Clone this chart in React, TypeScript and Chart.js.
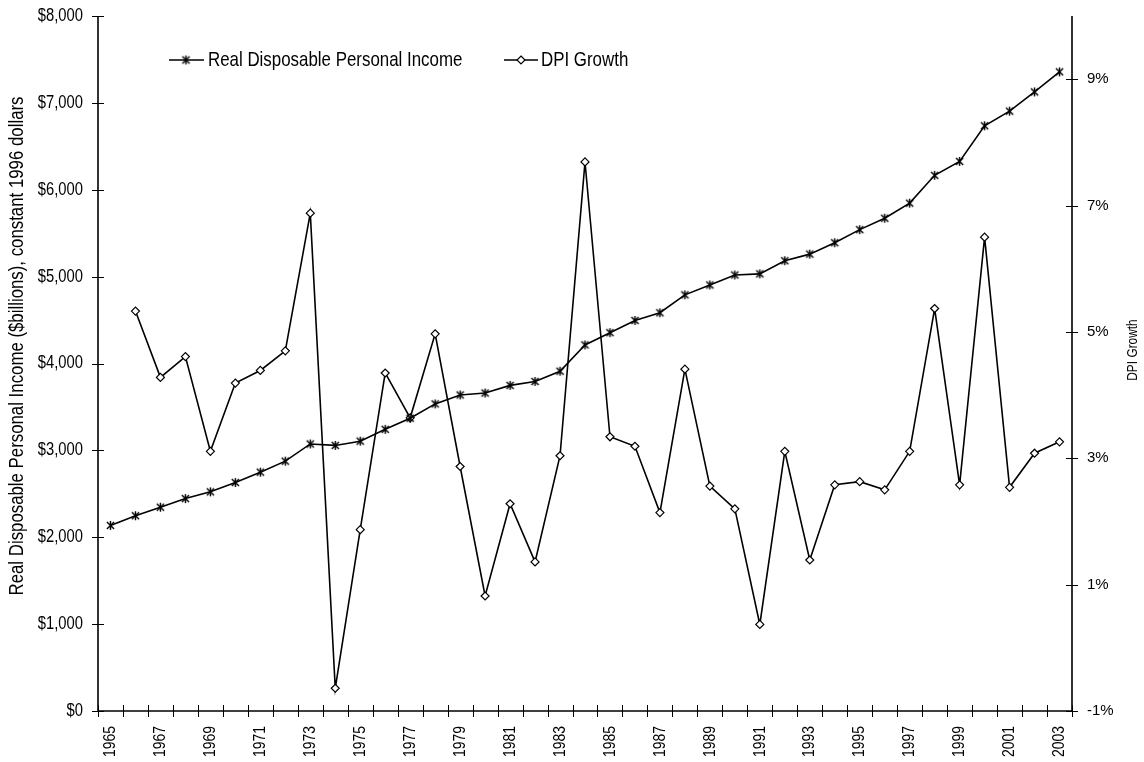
import React, { useEffect, useRef } from 'react';
import { Chart, registerables } from 'chart.js';

Chart.register(...registerables);

const years = [
  '1965', '1966', '1967', '1968', '1969', '1970', '1971', '1972', '1973', '1974',
  '1975', '1976', '1977', '1978', '1979', '1980', '1981', '1982', '1983', '1984',
  '1985', '1986', '1987', '1988', '1989', '1990', '1991', '1992', '1993', '1994',
  '1995', '1996', '1997', '1998', '1999', '2000', '2001', '2002', '2003',
];

const rdpi = [
  2136, 2248, 2346, 2445, 2523, 2630, 2749, 2876, 3074, 3057,
  3106, 3242, 3370, 3535, 3638, 3660, 3748, 3793, 3911, 4214,
  4355, 4495, 4584, 4790, 4904, 5019, 5032, 5183, 5259, 5390,
  5541, 5672, 5846, 6166, 6326, 6736, 6905, 7126, 7357,
];

const growth = [
  null, 5.33, 4.28, 4.61, 3.11, 4.19, 4.39, 4.70, 6.88, -0.64,
  1.87, 4.35, 3.64, 4.97, 2.87, 0.82, 2.28, 1.36, 3.04, 7.69,
  3.34, 3.19, 2.14, 4.41, 2.56, 2.20, 0.37, 3.11, 1.39, 2.58,
  2.63, 2.50, 3.11, 5.37, 2.58, 6.50, 2.54, 3.08, 3.26,
];

const leftTicks = [0, 1000, 2000, 3000, 4000, 5000, 6000, 7000, 8000];
const rightTicks = [-1, 1, 3, 5, 7, 9];
const seriesNames = ['Real Disposable Personal Income', 'DPI Growth'];
const leftTitle = 'Real Disposable Personal Income ($billions), constant 1996 dollars';
const rightTitle = 'DPI Growth';

const FAMILY = "'Liberation Sans', Arial, sans-serif";
const NARROW_SCALE = 0.82;

const fmtLeft = (v: number) => '$' + v.toLocaleString('en-US');
const fmtRight = (v: number) => v + '%';

function makeStar(size: number, lw: number) {
  const c = document.createElement('canvas');
  c.width = size;
  c.height = size;
  const g = c.getContext('2d')!;
  g.strokeStyle = '#000';
  g.lineWidth = lw;
  const m = size / 2;
  const r = size / 2 - 1;
  const d = r * 0.8;
  g.beginPath();
  g.moveTo(m - d, m - d);
  g.lineTo(m + d, m + d);
  g.moveTo(m + d, m - d);
  g.lineTo(m - d, m + d);
  g.moveTo(m, m - r);
  g.lineTo(m, m + r);
  g.stroke();
  return c;
}

function drawDiamond(ctx: CanvasRenderingContext2D, x: number, y: number, r: number) {
  ctx.beginPath();
  ctx.moveTo(x, y - r);
  ctx.lineTo(x + r, y);
  ctx.lineTo(x, y + r);
  ctx.lineTo(x - r, y);
  ctx.closePath();
  ctx.fillStyle = '#fff';
  ctx.fill();
  ctx.lineWidth = 1.2;
  ctx.strokeStyle = '#000';
  ctx.stroke();
}

// draws text in a condensed (Arial-Narrow-like) form
function narrowText(
  ctx: CanvasRenderingContext2D,
  text: string,
  x: number,
  y: number,
  size: number,
  align: CanvasTextAlign,
  rotated: boolean,
  scaleX: number = NARROW_SCALE,
) {
  ctx.save();
  ctx.translate(x, y);
  if (rotated) ctx.rotate(-Math.PI / 2);
  ctx.scale(scaleX, 1);
  ctx.font = `${size}px ${FAMILY}`;
  ctx.fillStyle = '#000';
  ctx.textAlign = align;
  ctx.textBaseline = 'middle';
  ctx.fillText(text, 0, 0);
  ctx.restore();
}

export default function App() {
  const ref = useRef<HTMLCanvasElement>(null);

  useEffect(() => {
    const star = makeStar(11, 1.4);

    const deco = {
      id: 'deco',
      afterDraw(chart: any) {
        const { ctx, chartArea: a, scales } = chart;
        ctx.save();
        // axis lines
        ctx.strokeStyle = '#000';
        ctx.lineWidth = 1.6;
        ctx.beginPath();
        ctx.moveTo(a.left, a.top);
        ctx.lineTo(a.left, a.bottom);
        ctx.lineTo(a.right, a.bottom);
        ctx.lineTo(a.right, a.top);
        ctx.stroke();
        // cross tick marks
        const T = 6;
        ctx.lineWidth = 1;
        ctx.beginPath();
        scales.y.ticks.forEach((t: any) => {
          const y = Math.round(scales.y.getPixelForValue(t.value)) + 0.5;
          ctx.moveTo(a.left - T, y);
          ctx.lineTo(a.left + T, y);
        });
        scales.y1.ticks.forEach((t: any) => {
          const y = Math.round(scales.y1.getPixelForValue(t.value)) + 0.5;
          ctx.moveTo(a.right - T, y);
          ctx.lineTo(a.right + T, y);
        });
        const x = scales.x;
        const p0 = x.getPixelForValue(0);
        const step = x.getPixelForValue(1) - p0;
        for (let i = 0; i <= years.length; i++) {
          const px = Math.round(p0 - step / 2 + i * step) + 0.5;
          ctx.moveTo(px, a.bottom - T);
          ctx.lineTo(px, a.bottom + T);
        }
        ctx.stroke();

        // tick labels
        leftTicks.forEach((v) => {
          narrowText(ctx, fmtLeft(v), a.left - 15, scales.y.getPixelForValue(v), 18, 'right', false);
        });
        rightTicks.forEach((v) => {
          narrowText(ctx, fmtRight(v), a.right + 15, scales.y1.getPixelForValue(v), 15, 'left', false, 1);
        });
        years.forEach((yr, i) => {
          if (i % 2 !== 0) return;
          narrowText(ctx, yr, x.getPixelForValue(i), a.bottom + 15, 17, 'right', true);
        });

        // legend
        const ly = 60;
        ctx.strokeStyle = '#000';
        ctx.lineWidth = 1.6;
        ctx.beginPath();
        ctx.moveTo(169, ly);
        ctx.lineTo(204, ly);
        ctx.moveTo(504, ly);
        ctx.lineTo(538, ly);
        ctx.stroke();
        ctx.drawImage(star, 186 - star.width / 2, ly - star.height / 2);
        drawDiamond(ctx, 521, ly, 4);
        narrowText(ctx, chart.data.datasets[0].label, 208, ly, 20.6, 'left', false);
        narrowText(ctx, chart.data.datasets[1].label, 541, ly, 20.6, 'left', false);

        // axis titles
        narrowText(ctx, leftTitle, 17, 346, 20.5, 'center', true);
        narrowText(ctx, rightTitle, 1133, 350, 14.5, 'center', true);

        ctx.restore();
      },
    };

    const chart = new Chart(ref.current!, {
      type: 'line',
      data: {
        labels: years,
        datasets: [
          {
            label: seriesNames[0],
            data: rdpi,
            yAxisID: 'y',
            borderColor: '#000',
            borderWidth: 1.6,
            pointStyle: star as any,
            pointRadius: 5,
            tension: 0,
          },
          {
            label: seriesNames[1],
            data: growth,
            yAxisID: 'y1',
            borderColor: '#000',
            borderWidth: 1.6,
            pointStyle: 'rectRot',
            pointRadius: 4,
            pointBorderWidth: 1.2,
            pointBackgroundColor: '#fff',
            pointBorderColor: '#000',
            tension: 0,
          },
        ],
      },
      options: {
        responsive: false,
        animation: false,
        events: [],
        layout: { padding: { top: 16, left: 0, right: 0, bottom: 0 } },
        plugins: {
          legend: { display: false },
          tooltip: { enabled: false },
        },
        scales: {
          x: {
            type: 'category',
            offset: true,
            grid: { display: false, drawTicks: false, offset: true },
            border: { display: false },
            ticks: { display: false, autoSkip: false },
            afterFit: (s: any) => {
              s.height = 51;
              s.paddingLeft = 0;
              s.paddingRight = 0;
            },
          },
          y: {
            type: 'linear',
            position: 'left',
            min: leftTicks[0],
            max: leftTicks[leftTicks.length - 1],
            grid: { display: false, drawTicks: false },
            border: { display: false },
            afterBuildTicks: (s: any) => {
              s.ticks = leftTicks.map((v) => ({ value: v }));
            },
            ticks: { display: false },
            afterFit: (s: any) => {
              s.width = 98;
              s.paddingTop = 0;
              s.paddingBottom = 0;
            },
          },
          y1: {
            type: 'linear',
            position: 'right',
            min: -1,
            max: 10,
            grid: { display: false, drawTicks: false },
            border: { display: false },
            afterBuildTicks: (s: any) => {
              s.ticks = rightTicks.map((v) => ({ value: v }));
            },
            ticks: { display: false },
            afterFit: (s: any) => {
              s.width = 72;
              s.paddingTop = 0;
              s.paddingBottom = 0;
            },
          },
        },
      },
      plugins: [deco],
    });

    return () => chart.destroy();
  }, []);

  return (
    <div style={{ width: 1144, height: 762, position: 'relative' }}>
      <style>{'body{margin:0}'}</style>
      <canvas ref={ref} width={1144} height={762} style={{ display: 'block' }} />
    </div>
  );
}
